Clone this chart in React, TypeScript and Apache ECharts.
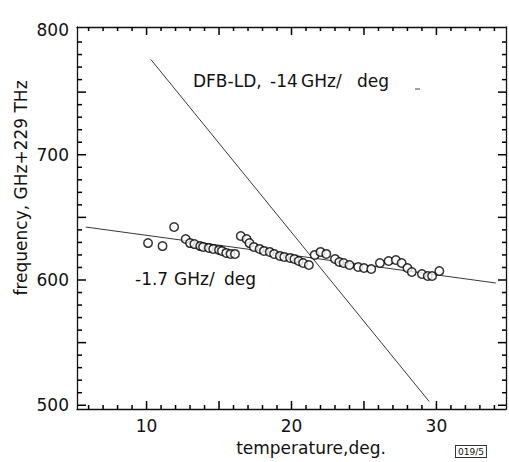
import React, { useEffect, useRef } from "react";
import * as echarts from "echarts";

// Measured data (temperature in deg, frequency in GHz + 229 THz)
const temperature = [
  10.1, 11.1, 11.9, 12.7, 13.0, 13.3, 13.7, 13.9, 14.3, 14.6, 15.0, 15.2, 15.5, 15.8, 16.1,
  16.5, 16.9, 17.1, 17.4, 17.8, 18.1, 18.5, 18.8, 19.2, 19.5, 19.9, 20.2, 20.5, 20.8, 21.2,
  21.6, 22.0, 22.4, 23.0, 23.3, 23.6, 24.0, 24.6, 25.0, 25.5, 26.1, 26.7, 27.2, 27.6, 28.0,
  28.3, 29.0, 29.4, 29.7, 30.2,
];
const frequency = [
  629.5, 627.1, 642.3, 632.7, 629.5, 628.7, 627.1, 626.4, 625.6, 624.8, 624.0, 623.2, 621.6, 620.8, 620.8,
  635.1, 632.7, 629.5, 626.4, 624.8, 623.2, 622.4, 620.8, 619.2, 618.4, 617.6, 616.8, 615.2, 613.6, 612.0,
  620.0, 622.4, 620.8, 616.8, 614.4, 613.6, 612.0, 610.4, 609.6, 608.8, 613.6, 615.2, 616.0, 613.6, 609.6,
  606.4, 604.8, 603.2, 603.2, 607.2,
];

// Fitted lines
const dfbLineX = [10.3, 29.5];
const dfbLineY = [776, 503];
const fitLineX = [5.8, 34.1];
const fitLineY = [642.3, 597.6];

// Axes
const xMin = 5.2;
const xMax = 34.8;
const yMin = 497;
const yMax = 802;
const xLabelValues = [10, 20, 30];
const yLabelValues = [500, 600, 700, 800];
const xMinorTicks = [6, 7, 8, 9, 11, 12, 13, 14, 16, 17, 18, 19, 21, 22, 23, 24, 26, 27, 28, 29, 31, 32, 33, 34];
const xMajorTicks = [10, 15, 20, 25, 30];
const yMinorTicks = [
  510, 520, 530, 540, 560, 570, 580, 590, 610, 620, 630, 640, 660, 670, 680, 690,
  710, 720, 730, 740, 760, 770, 780, 790,
];
const yMajorTicks = [500, 550, 600, 650, 700, 750];

const FONT = "DejaVu Sans";
const INK = "#111";

const W = 509;
const H = 462;
const G = { left: 77, right: 3, top: 27, bottom: 53 };

type Side = "bottom" | "top" | "left" | "right";

const tickGroups: [number[], Side, number][] = [
  [xMinorTicks, "bottom", 4],
  [xMajorTicks, "bottom", 8],
  [xMinorTicks, "top", 4],
  [xMajorTicks, "top", 8],
  [yMinorTicks, "left", 5],
  [yMajorTicks, "left", 9],
  [yMinorTicks, "right", 4],
  [yMajorTicks, "right", 8],
];

// same linear mapping as the value axes of the grid
const pxX = (v: number) => G.left + ((v - xMin) / (xMax - xMin)) * (W - G.left - G.right);
const pxY = (v: number) => G.top + ((yMax - v) / (yMax - yMin)) * (H - G.top - G.bottom);

function tickLine(v: number, side: Side, len: number) {
  let x1: number, y1: number, x2: number, y2: number;
  if (side === "bottom" || side === "top") {
    x1 = x2 = pxX(v);
    y1 = side === "bottom" ? H - G.bottom : G.top;
    y2 = side === "bottom" ? y1 - len : y1 + len;
  } else {
    y1 = y2 = pxY(v);
    x1 = side === "left" ? G.left : W - G.right;
    x2 = side === "left" ? x1 + len : x1 - len;
  }
  return {
    type: "line",
    z: 100,
    shape: { x1, y1, x2, y2 },
    style: { stroke: "#000", lineWidth: 1.5 },
  };
}

export default function App() {
  const ref = useRef<HTMLDivElement>(null);

  useEffect(() => {
    if (!ref.current) return;
    const chart = echarts.init(ref.current, undefined, { renderer: "svg" });

    const points = temperature.map((t, i) => [t, frequency[i]]);
    const dfb = dfbLineX.map((x, i) => [x, dfbLineY[i]]);
    const fit = fitLineX.map((x, i) => [x, fitLineY[i]]);

    const mainAxis = (position: string, min: number, max: number, labels: number[] | null) => ({
      type: "value",
      position,
      min,
      max,
      axisLine: { show: true, onZero: false, lineStyle: { color: INK, width: 1.3 } },
      axisTick: { show: false },
      axisLabel: labels
        ? { show: true, customValues: labels, color: INK, fontFamily: FONT, fontSize: 17, margin: 8 }
        : { show: false },
      splitLine: { show: false },
    });

    const ticks: any[] = [];
    tickGroups.forEach(([vals, side, len]) => vals.forEach((v) => ticks.push(tickLine(v, side, len))));

    const textGraphics: any[] = [
      {
        type: "text",
        x: 21,
        y: 188,
        rotation: Math.PI / 2,
        style: {
          text: "frequency, GHz+229 THz",
          font: `17px '${FONT}'`,
          fill: INK,
          align: "center",
          verticalAlign: "middle",
        },
      },
      {
        type: "text",
        x: 311,
        y: 448,
        style: {
          text: "temperature,deg.",
          font: `17px '${FONT}'`,
          fill: INK,
          align: "center",
          verticalAlign: "middle",
        },
      },
      { type: "text", x: 193, y: 81, style: { text: "DFB-LD,", font: `17px '${FONT}'`, fill: INK, verticalAlign: "middle" } },
      { type: "text", x: 270, y: 81, style: { text: "-14", font: `17px '${FONT}'`, fill: INK, verticalAlign: "middle" } },
      { type: "text", x: 301, y: 81, style: { text: "GHz/", font: `17px '${FONT}'`, fill: INK, verticalAlign: "middle" } },
      { type: "text", x: 357, y: 81, style: { text: "deg", font: `17px '${FONT}'`, fill: INK, verticalAlign: "middle" } },
      { type: "text", x: 135, y: 279, style: { text: "-1.7", font: `17px '${FONT}'`, fill: INK, verticalAlign: "middle" } },
      { type: "text", x: 174, y: 279, style: { text: "GHz/", font: `17px '${FONT}'`, fill: INK, verticalAlign: "middle" } },
      { type: "text", x: 224, y: 279, style: { text: "deg", font: `17px '${FONT}'`, fill: INK, verticalAlign: "middle" } },
      {
        type: "line",
        shape: { x1: 415, y1: 89, x2: 420, y2: 89 },
        style: { stroke: "#444", lineWidth: 1 },
      },
      {
        type: "text",
        x: 456,
        y: 446,
        style: {
          text: "019/5",
          font: `9px '${FONT}'`,
          fill: INK,
          backgroundColor: "#fff",
          borderColor: "#333",
          borderWidth: 1,
          padding: [1, 2, 1, 2],
        },
      },
    ];

    chart.setOption({
      animation: false,
      backgroundColor: "#fff",
      grid: { ...G },
      xAxis: [mainAxis("bottom", xMin, xMax, xLabelValues), mainAxis("top", xMin, xMax, null)],
      yAxis: [mainAxis("left", yMin, yMax, yLabelValues), mainAxis("right", yMin, yMax, null)],
      series: [
        {
          name: "DFB-LD",
          type: "line",
          data: dfb,
          symbol: "none",
          lineStyle: { color: "#222", width: 0.9 },
          z: 2,
        },
        {
          name: "fit",
          type: "line",
          data: fit,
          symbol: "none",
          lineStyle: { color: "#222", width: 0.9 },
          z: 2,
        },
        {
          name: "measured",
          type: "scatter",
          data: points,
          symbol: "circle",
          symbolSize: 8.5,
          itemStyle: { color: "#fff", borderColor: "#000", borderWidth: 1.5 },
          z: 3,
        },
      ],
      graphic: { elements: [...textGraphics, ...ticks] },
    });

    return () => chart.dispose();
  }, []);

  return (
    <div
      ref={ref}
      style={{ position: "absolute", left: 0, top: 0, width: W, height: H, background: "#fff" }}
    />
  );
}
